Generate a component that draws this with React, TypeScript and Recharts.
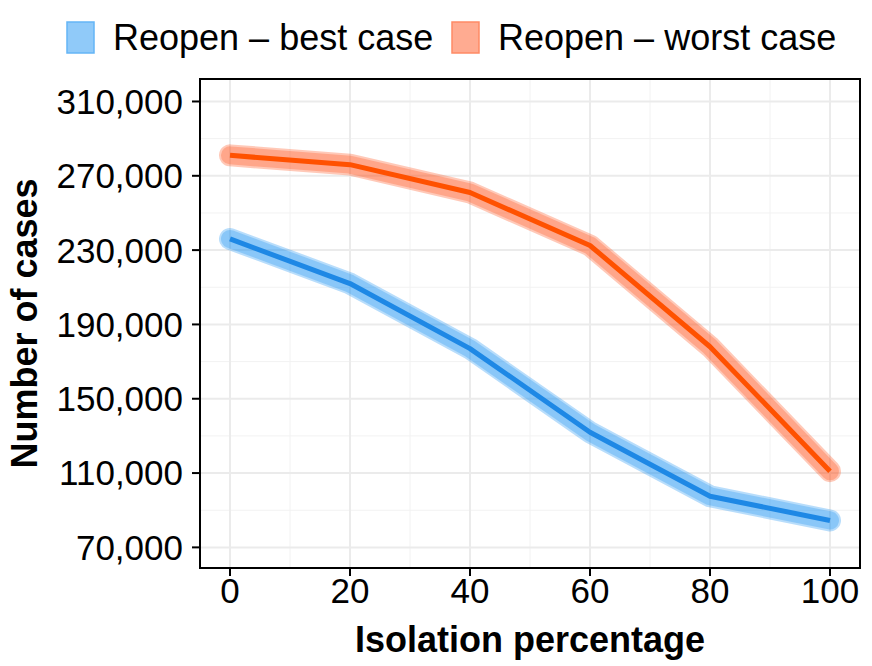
import React from 'react';
import {
  LineChart,
  Line,
  XAxis,
  YAxis,
  CartesianGrid,
  ReferenceArea,
} from 'recharts';

const isolation = [0, 20, 40, 60, 80, 100];
const bestCase = [236000, 212000, 177000, 132000, 97500, 84500];
const worstCase = [281000, 276000, 261000, 232500, 178000, 111000];

const seriesNames = ['Reopen – best case', 'Reopen – worst case'];
const xTicks = [0, 20, 40, 60, 80, 100];
const xMinor = [10, 30, 50, 70, 90];
const yTicks = [70000, 110000, 150000, 190000, 230000, 270000, 310000];
const yMinor = [90000, 130000, 170000, 210000, 250000, 290000];
const xDomain = [-5, 105];
const yDomain = [58900, 322100];

const data = isolation.map((x, i) => ({ x, best: bestCase[i], worst: worstCase[i] }));

const FONT = '"Liberation Sans", Arial, Helvetica, sans-serif';

const YTitle = (props: any) => {
  const vb = props.viewBox || {};
  const cy = vb.y + vb.height / 2;
  const x = 37;
  return (
    <text
      x={x}
      y={cy}
      transform={`rotate(-90, ${x}, ${cy})`}
      textAnchor="middle"
      fontFamily={FONT}
      fontWeight="bold"
      fontSize={36}
      fill="#000"
    >
      Number of cases
    </text>
  );
};

const Legend = () => (
  <svg
    width={872}
    height={70}
    style={{ position: 'absolute', left: 0, top: 0, pointerEvents: 'none' }}
  >
    <rect x={67} y={22} width={27} height={31} fill="#90CAF9" stroke="#64B5F6" strokeWidth={1.5} />
    <text x={113} y={50} fontFamily={FONT} fontSize={36} fill="#000">
      {seriesNames[0]}
    </text>
    <rect x={452} y={22} width={27} height={31} fill="#FFAB91" stroke="#FF8A65" strokeWidth={1.5} />
    <text x={498} y={50} fontFamily={FONT} fontSize={36} fill="#000">
      {seriesNames[1]}
    </text>
  </svg>
);

export default function App() {
  const tickStyle = { fontFamily: FONT, fontSize: 35, fill: '#000' };
  const band = (key: string, color: string, width: number, opacity: number) => (
    <Line
      key={`${key}-${width}`}
      dataKey={key}
      stroke={color}
      strokeOpacity={opacity}
      strokeWidth={width}
      strokeLinecap="round"
      strokeLinejoin="round"
      dot={false}
      activeDot={false}
      isAnimationActive={false}
    />
  );
  return (
    <div style={{ position: 'absolute', left: 0, top: 0, width: 872, height: 666, background: '#fff' }}>
      <LineChart
        width={872}
        height={666}
        data={data}
        margin={{ top: 79, right: 12, left: 0, bottom: 0 }}
      >
        <CartesianGrid
          stroke="#f2f2f2"
          strokeWidth={1}
          horizontalValues={yMinor}
          verticalValues={xMinor}
        />
        <CartesianGrid stroke="#ebebeb" strokeWidth={2} />
        <XAxis
          dataKey="x"
          type="number"
          domain={xDomain}
          ticks={xTicks}
          interval={0}
          height={98}
          tick={tickStyle}
          tickSize={8}
          tickMargin={2}
          axisLine={{ stroke: '#000', strokeWidth: 2 }}
          tickLine={{ stroke: '#000', strokeWidth: 2 }}
          allowDataOverflow
          label={{
            value: 'Isolation percentage',
            position: 'insideBottom',
            offset: 14,
            style: { fontFamily: FONT, fontSize: 36, fontWeight: 'bold', fill: '#000' },
          }}
        />
        <YAxis
          type="number"
          domain={yDomain}
          ticks={yTicks}
          interval={0}
          width={200}
          tick={tickStyle}
          tickSize={8}
          tickMargin={9}
          tickFormatter={(v: number) => v.toLocaleString('en-US')}
          axisLine={{ stroke: '#000', strokeWidth: 2 }}
          tickLine={{ stroke: '#000', strokeWidth: 2 }}
          allowDataOverflow
          label={<YTitle />}
        />
        {band('best', '#2196F3', 22, 0.32)}
        {band('best', '#2196F3', 18, 0.3)}
        {band('worst', '#FF5722', 22, 0.32)}
        {band('worst', '#FF5722', 18, 0.3)}
        <Line
          dataKey="best"
          stroke="#1E88E5"
          strokeWidth={5}
          strokeLinejoin="round"
          dot={false}
          activeDot={false}
          isAnimationActive={false}
        />
        <Line
          dataKey="worst"
          stroke="#FF5100"
          strokeWidth={5}
          strokeLinejoin="round"
          dot={false}
          activeDot={false}
          isAnimationActive={false}
        />
        <ReferenceArea
          x1={xDomain[0]}
          x2={xDomain[1]}
          y1={yDomain[0]}
          y2={yDomain[1]}
          fill="none"
          fillOpacity={0}
          stroke="#000"
          strokeWidth={2}
          ifOverflow="visible"
        />
      </LineChart>
      <Legend />
    </div>
  );
}
